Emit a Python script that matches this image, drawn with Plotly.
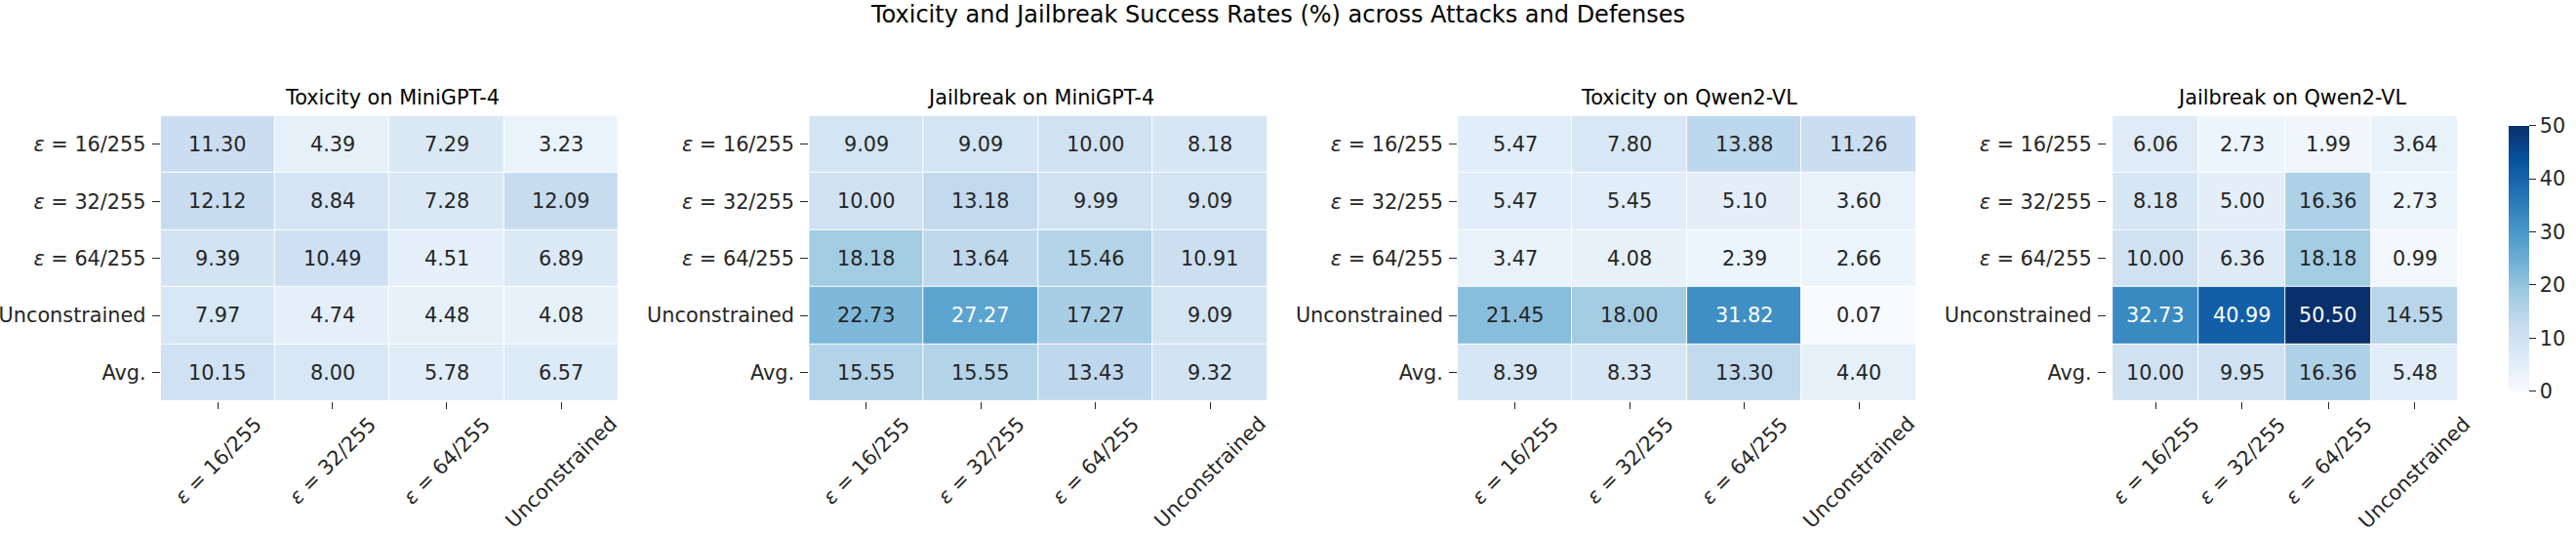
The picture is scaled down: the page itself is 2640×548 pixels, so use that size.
import plotly.graph_objects as go
import plotly.colors as pc

row_labels = ["ε = 16/255", "ε = 32/255", "ε = 64/255", "Unconstrained", "Avg."]
col_labels = ["ε = 16/255", "ε = 32/255", "ε = 64/255", "Unconstrained"]
tick_text_rows = ["<i>ε</i> = 16/255", "<i>ε</i> = 32/255", "<i>ε</i> = 64/255", "Unconstrained", "Avg."]
tick_text_cols = ["<i>ε</i> = 16/255", "<i>ε</i> = 32/255", "<i>ε</i> = 64/255", "Unconstrained"]

tox_minigpt = [[11.30, 4.39, 7.29, 3.23],
               [12.12, 8.84, 7.28, 12.09],
               [9.39, 10.49, 4.51, 6.89],
               [7.97, 4.74, 4.48, 4.08],
               [10.15, 8.00, 5.78, 6.57]]
jb_minigpt = [[9.09, 9.09, 10.00, 8.18],
              [10.00, 13.18, 9.99, 9.09],
              [18.18, 13.64, 15.46, 10.91],
              [22.73, 27.27, 17.27, 9.09],
              [15.55, 15.55, 13.43, 9.32]]
tox_qwen = [[5.47, 7.80, 13.88, 11.26],
            [5.47, 5.45, 5.10, 3.60],
            [3.47, 4.08, 2.39, 2.66],
            [21.45, 18.00, 31.82, 0.07],
            [8.39, 8.33, 13.30, 4.40]]
jb_qwen = [[6.06, 2.73, 1.99, 3.64],
           [8.18, 5.00, 16.36, 2.73],
           [10.00, 6.36, 18.18, 0.99],
           [32.73, 40.99, 50.50, 14.55],
           [10.00, 9.95, 16.36, 5.48]]

panel_titles = ["Toxicity on MiniGPT-4", "Jailbreak on MiniGPT-4",
                "Toxicity on Qwen2-VL", "Jailbreak on Qwen2-VL"]
panels = [tox_minigpt, jb_minigpt, tox_qwen, jb_qwen]

W, H = 2640, 548
ZMIN, ZMAX = 0, 50
blues = pc.sequential.Blues
FONT = "DejaVu Sans"
DARK = "#262626"
FS = 20.8

x_domains = [(166.1, 643.7), (836.2, 1314.3), (1506.6, 1985.1), (2177.0, 2559.5)]
y_top, y_bot = 118.8, 410.7
ydom = [1 - y_bot / H, 1 - y_top / H]
xlabel_top = 421.0


def text_color(v):
    t = min(max((v - ZMIN) / (ZMAX - ZMIN), 0), 1)
    c = pc.sample_colorscale(blues, [t])[0]
    r, g, b = [float(s) for s in c[c.index("(") + 1:c.index(")")].split(",")]
    def lin(u):
        u = u / 255
        return u / 12.92 if u <= 0.03928 else ((u + 0.055) / 1.055) ** 2.4
    lum = 0.2126 * lin(r) + 0.7152 * lin(g) + 0.0722 * lin(b)
    return DARK if lum > 0.408 else "white"


fig = go.Figure()
annotations = []
for i, (z, title) in enumerate(zip(panels, panel_titles)):
    n = "" if i == 0 else str(i + 1)
    fig.add_trace(go.Heatmap(
        z=z, x=col_labels, y=row_labels,
        colorscale=blues, zmin=ZMIN, zmax=ZMAX,
        xgap=1, ygap=1,
        showscale=(i == 3),
        xaxis="x" + n, yaxis="y" + n,
        colorbar=dict(
            thickness=20.8, thicknessmode="pixels",
            len=y_bot - y_top, lenmode="pixels",
            x=2582.7 / W, xanchor="left",
            y=ydom[0], yanchor="bottom",
            outlinewidth=0,
            tickvals=[0, 10, 20, 30, 40, 50],
            ticks="outside", ticklen=7, tickwidth=1.3, tickcolor=DARK,
            tickfont=dict(family=FONT, size=FS, color=DARK),
        ),
        hoverinfo="skip",
    ))
    x0, x1 = x_domains[i]
    fig.update_layout(**{
        "xaxis" + n: dict(domain=[x0 / W, x1 / W], anchor="y" + n,
                          categoryorder="array", categoryarray=col_labels,
                          showticklabels=False,
                          ticks="outside", ticklen=7,
                          tickwidth=1.3, tickcolor=DARK,
                          showgrid=False, zeroline=False, showline=False,
                          automargin=False),
        "yaxis" + n: dict(domain=ydom, anchor="x" + n,
                          categoryorder="array", categoryarray=row_labels,
                          autorange="reversed",
                          tickvals=row_labels, ticktext=tick_text_rows,
                          ticks="outside", ticklen=8, ticklabelstandoff=2,
                          tickwidth=1.3, tickcolor=DARK,
                          tickfont=dict(family=FONT, size=FS, color=DARK),
                          showgrid=False, zeroline=False, showline=False,
                          automargin=False),
    })
    for r, row in enumerate(z):
        for c, v in enumerate(row):
            annotations.append(dict(
                x=col_labels[c], y=row_labels[r],
                xref="x" + n, yref="y" + n,
                text=f"{v:.2f}", showarrow=False,
                font=dict(family=FONT, size=FS, color=text_color(v)),
            ))
    # rotated x tick labels, centred on their ticks (as matplotlib draws them)
    for c, lab in enumerate(col_labels):
        annotations.append(dict(
            x=lab, y=1 - xlabel_top / H, xref="x" + n, yref="paper",
            text=tick_text_cols[c], showarrow=False, textangle=-45,
            xanchor="center", yanchor="top", borderpad=0,
            font=dict(family=FONT, size=FS, color=DARK),
        ))
    annotations.append(dict(
        x=(x0 + x1) / 2 / W, y=1 - 99.6 / H, xref="paper", yref="paper",
        text=title, showarrow=False, xanchor="center", yanchor="middle",
        font=dict(family=FONT, size=FS, color="black"),
    ))

annotations.append(dict(
    x=0.5, y=1.0, xref="paper", yref="paper",
    text="Toxicity and Jailbreak Success Rates (%) across Attacks and Defenses",
    showarrow=False, xanchor="center", yanchor="top", borderpad=0,
    font=dict(family=FONT, size=24, color="black"),
))

fig.update_layout(
    width=W, height=H,
    margin=dict(l=0, r=0, t=0, b=0),
    paper_bgcolor="white", plot_bgcolor="white",
    annotations=annotations,
    font=dict(family=FONT, color=DARK),
)

fig.write_html("out.html")
